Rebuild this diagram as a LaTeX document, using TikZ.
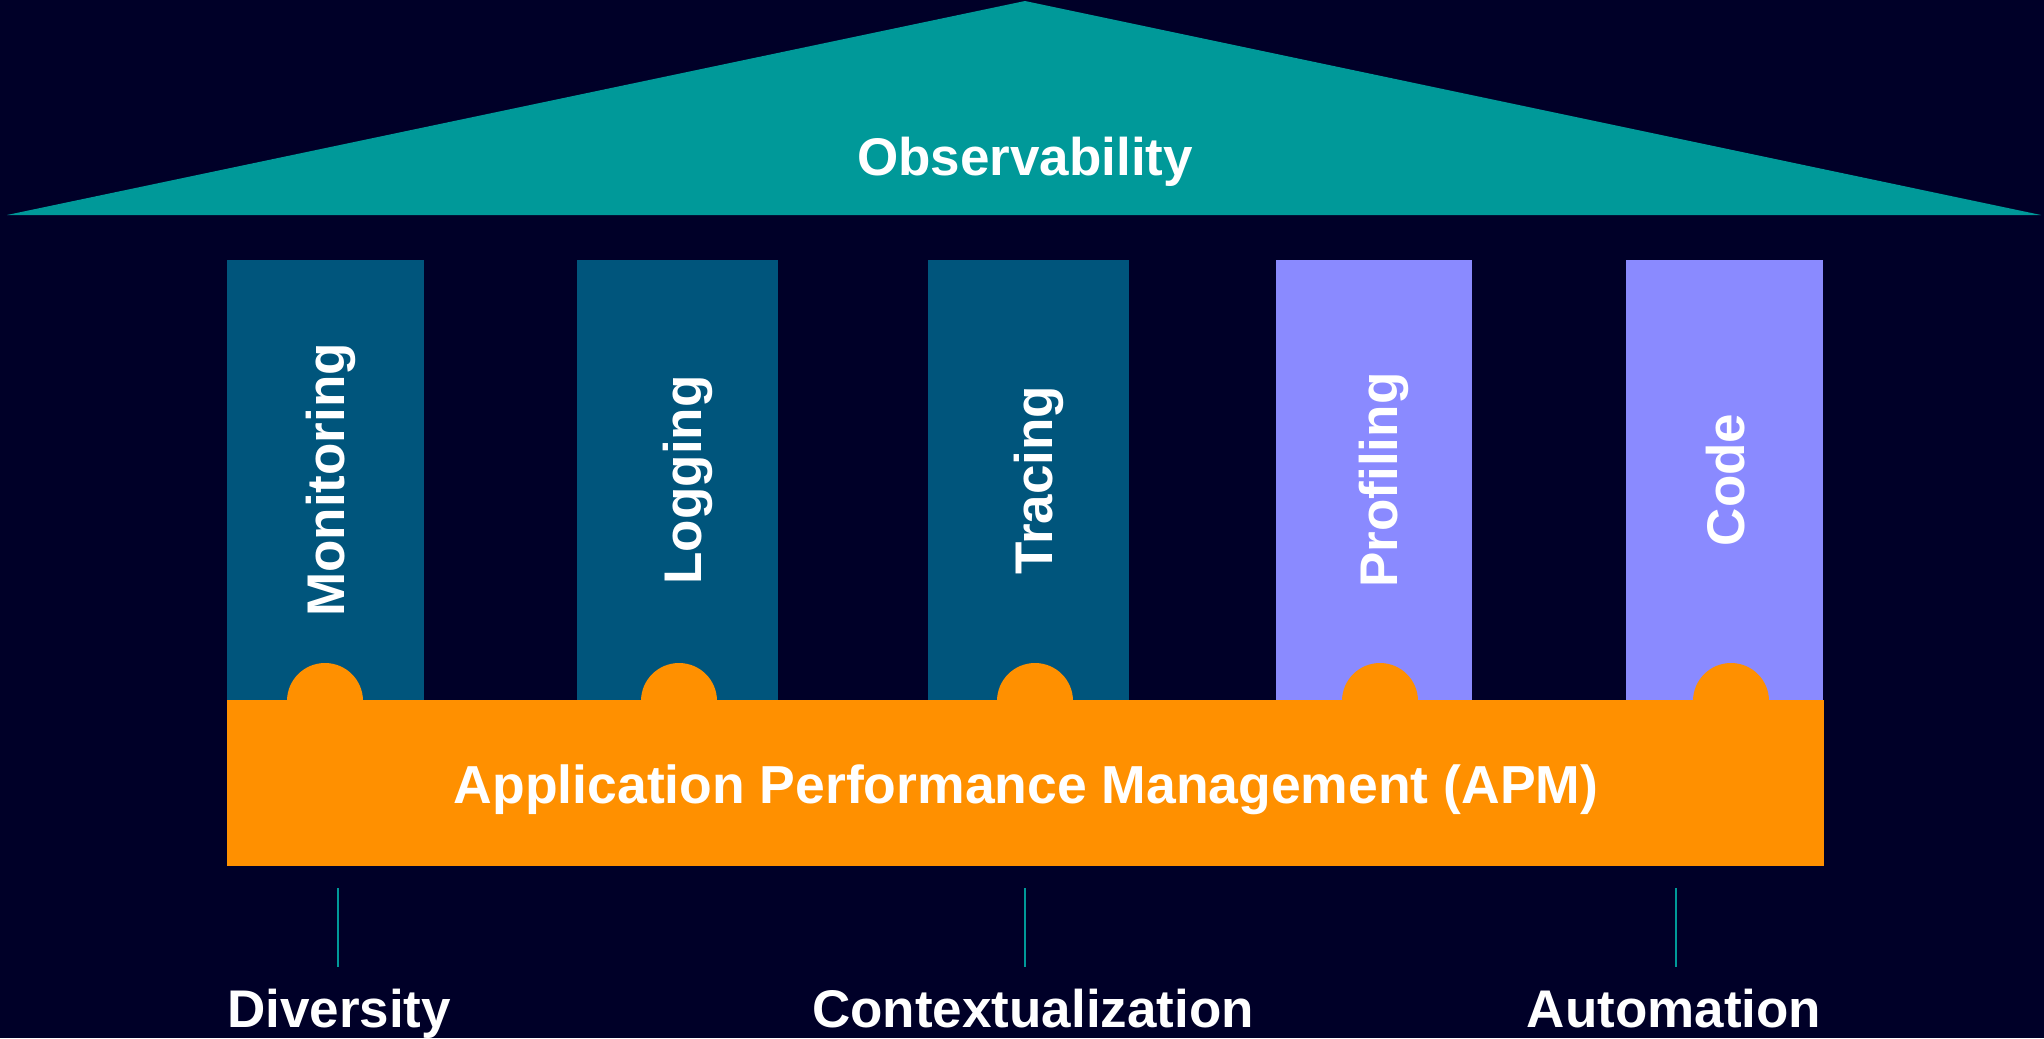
\documentclass[tikz,border=0pt]{standalone}
\usepackage{fontspec}
\setmainfont{Liberation Sans}
\definecolor{bg}{HTML}{000028}
\definecolor{petrol}{HTML}{009999}
\definecolor{colblue}{HTML}{00557C}
\definecolor{lav}{HTML}{8A8AFF}
\definecolor{apm}{HTML}{FF9000}
\begin{document}
\begin{tikzpicture}[x=1bp,y=-1bp,
  lbl/.style={text=white,font=\bfseries\fontsize{53bp}{60bp}\selectfont,inner sep=0pt,anchor=base},
  pillar/.style={fill=#1,draw=none,inner sep=0pt,minimum width=197bp,minimum height=440bp},
  bump/.style={fill=apm},
  tick/.style={draw=petrol,line width=2bp}]
\fill[bg] (0,0) rectangle (2044,1038);
\useasboundingbox (0,0) rectangle (2044,1038);
% roof
\fill[petrol] (7,215) -- (1025,1) -- (2041,215) -- cycle;
\node[lbl] (obs) at (1025,175) {Observability};
% pillars
\node[pillar=colblue] (p1) at (325.5,480) {};
\node[pillar=colblue,minimum width=201bp] (p2) at (677.5,480) {};
\node[pillar=colblue,minimum width=201bp] (p3) at (1028,480) {};
\node[pillar=lav,minimum width=196bp] (p4) at (1374,480) {};
\node[pillar=lav,minimum width=197bp] (p5) at (1724.5,480) {};
\node[lbl,rotate=90] (t1) at (344,480) {Monitoring};
\node[lbl,rotate=90] (t2) at (701,480) {Logging};
\node[lbl,rotate=90] (t3) at (1052,480) {Tracing};
\node[lbl,rotate=90] (t4) at (1397,480) {Profiling};
\node[lbl,rotate=90] (t5) at (1744,480) {Code};
% bumps
\foreach \cx in {325,679,1035,1380,1731}
  \fill[bump] (\cx-38,701) arc[start angle=180,end angle=360,radius=38] -- cycle;
% APM bar
\node[fill=apm,draw=none,inner sep=0pt,minimum width=1597bp,minimum height=166bp] (bar) at (1025.5,783) {};
\node[lbl,font=\bfseries\fontsize{53.5bp}{60bp}\selectfont] (apmt) at (1026,803) {Application Performance Management (APM)};
% ticks
\coordinate (a1) at (338,888); \coordinate (b1) at (338,967);
\coordinate (a2) at (1025,888); \coordinate (b2) at (1025,967);
\coordinate (a3) at (1676,888); \coordinate (b3) at (1676,967);
\draw[tick] (a1) -- (b1);
\draw[tick] (a2) -- (b2);
\draw[tick] (a3) -- (b3);
% bottom labels
\node[lbl,anchor=base west] (div) at (227,1027) {Diversity};
\node[lbl] (ctx) at (1033,1027) {Contextualization};
\node[lbl] (aut) at (1674,1027) {Automation};
\end{tikzpicture}
\end{document}
